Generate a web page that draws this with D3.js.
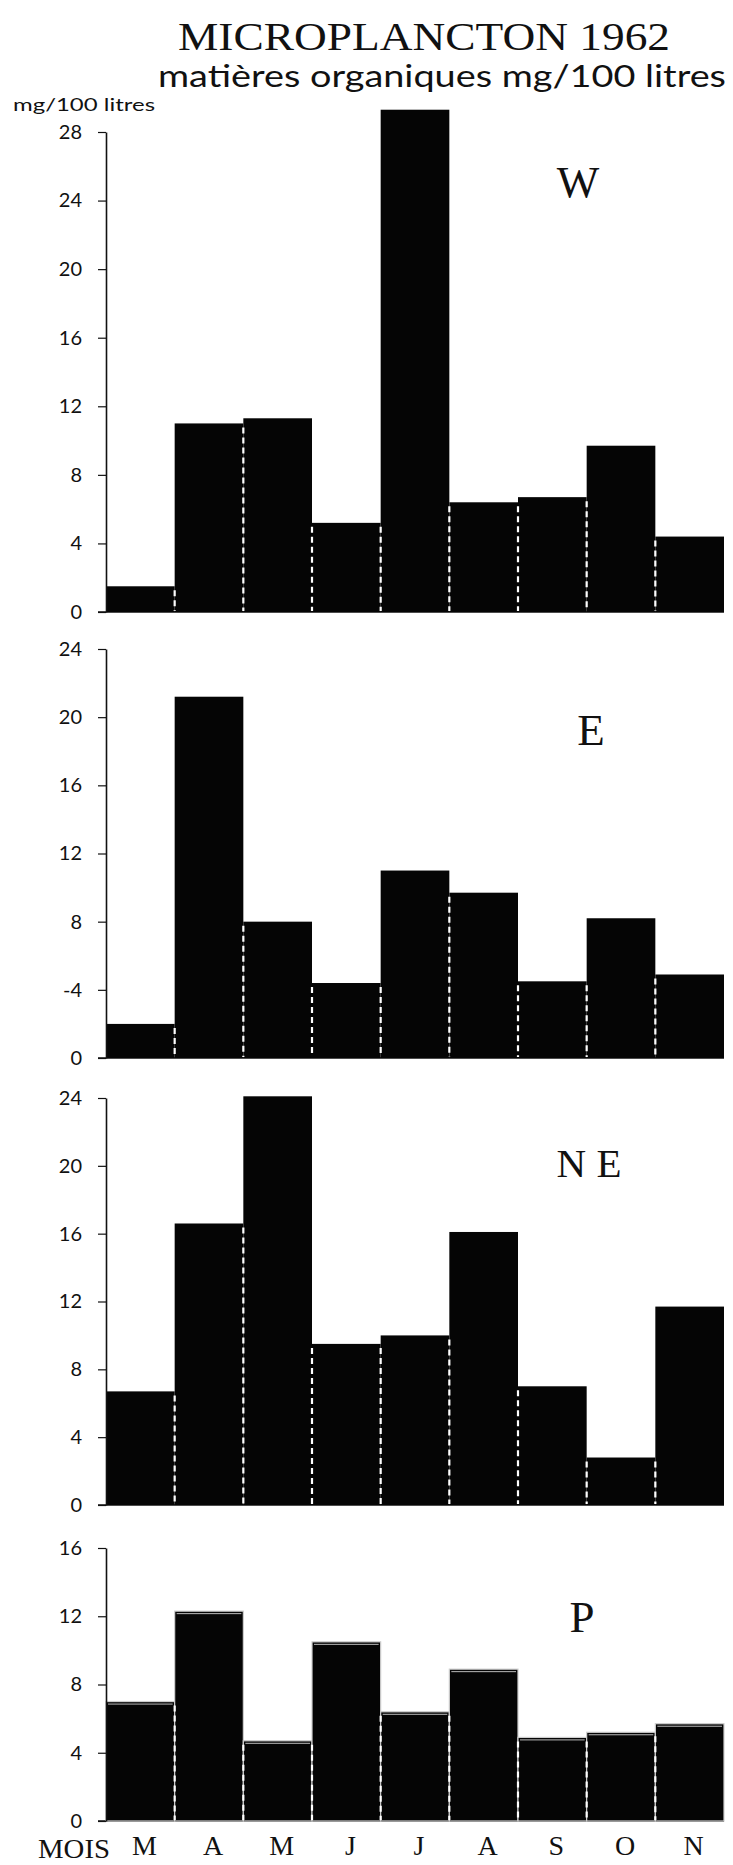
<!DOCTYPE html>
<html><head><meta charset="utf-8">
<script src="https://cdn.jsdelivr.net/npm/d3@7"></script>
<style>html,body{margin:0;padding:0;background:#fff}svg{display:block}</style>
</head><body><svg id="c"></svg>
<script>
// ---- data ----
const months = ["M","A","M","J","J","A","S","O","N"];
const valuesW  = [1.5, 11.0, 11.3, 5.2, 29.3, 6.4, 6.7, 9.7, 4.4];
const valuesE  = [2.0, 21.2, 8.0, 4.4, 11.0, 9.7, 4.5, 8.2, 4.9];
const valuesNE = [6.7, 16.6, 24.1, 9.5, 10.0, 16.1, 7.0, 2.8, 11.7];
const valuesP  = [7.0, 12.3, 4.7, 10.5, 6.4, 8.9, 4.9, 5.2, 5.7];
const ticksW  = [0,4,8,12,16,20,24,28];
const tickLabelsW  = ["0","4","8","12","16","20","24","28"];
const ticksE  = [0,4,8,12,16,20,24];
const tickLabelsE  = ["0","-4","8","12","16","20","24"];
const ticksNE = [0,4,8,12,16,20,24];
const tickLabelsNE = ["0","4","8","12","16","20","24"];
const ticksP  = [0,4,8,12,16];
const tickLabelsP  = ["0","4","8","12","16"];
const panelNames = ["W","E","N E","P"];
const titleText = "MICROPLANCTON 1962";
const subtitleText = "matières organiques mg/100 litres";
const unitText = "mg/100 litres";
const axisName = "MOIS";

// ---- layout ----
const Wd = 733, Ht = 1865;
const svg = d3.select("#c").attr("width", Wd).attr("height", Ht);
svg.append("rect").attr("width", Wd).attr("height", Ht).attr("fill", "#fff");

const panels = [
  {name: panelNames[0], values: valuesW,  ticks: ticksW,  labels: tickLabelsW,  max: 28, bottom: 612,  top: 132,  lx: 578, ly: 197,  fs: 45, outline: false},
  {name: panelNames[1], values: valuesE,  ticks: ticksE,  labels: tickLabelsE,  max: 24, bottom: 1058, top: 649,  lx: 591, ly: 745,  fs: 45, outline: false},
  {name: panelNames[2], values: valuesNE, ticks: ticksNE, labels: tickLabelsNE, max: 24, bottom: 1505, top: 1098, lx: 589, ly: 1177, fs: 41, outline: false},
  {name: panelNames[3], values: valuesP,  ticks: ticksP,  labels: tickLabelsP,  max: 16, bottom: 1821, top: 1548, lx: 582, ly: 1632, fs: 45, outline: true}
];

const x = d3.scaleBand().domain(d3.range(months.length)).range([106, 724]).paddingInner(0).paddingOuter(0);
const serif = "'Liberation Serif', 'DejaVu Serif', serif";
const sans = "Lato, 'Noto Sans', sans-serif";

// titles
svg.append("text").attr("x", 178).attr("y", 50).attr("font-family", serif).attr("font-size", 41)
  .attr("textLength", 492).attr("lengthAdjust", "spacingAndGlyphs").attr("fill", "#111").text(titleText);
svg.append("text").attr("x", 158).attr("y", 87).attr("font-family", sans).attr("font-size", 30)
  .attr("textLength", 568).attr("lengthAdjust", "spacingAndGlyphs").attr("fill", "#111").text(subtitleText);
svg.append("text").attr("x", 13).attr("y", 111).attr("font-family", sans).attr("font-size", 18)
  .attr("textLength", 142).attr("lengthAdjust", "spacingAndGlyphs").attr("fill", "#111").text(unitText);

panels.forEach(p => {
  const y = d3.scaleLinear().domain([0, p.max]).range([p.bottom, p.top]);
  const g = svg.append("g");

  // baseline
  g.append("line").attr("x1", 98).attr("x2", x.range()[1]).attr("y1", y(0)).attr("y2", y(0))
    .attr("stroke", "#111").attr("stroke-width", 1.3);

  // bars
  g.selectAll("rect.bar").data(p.values).join("rect").attr("class", "bar")
    .attr("x", (d, i) => x(i)).attr("y", d => y(d))
    .attr("width", x.bandwidth()).attr("height", d => y(0) - y(d))
    .attr("fill", "#050505")
    .attr("stroke", p.outline ? "#cfcfcf" : "none").attr("stroke-width", p.outline ? 1.2 : 0);

  if (p.outline) {
    g.selectAll("line.inner").data(p.values).join("line").attr("class", "inner")
      .attr("x1", (d, i) => x(i) + 2).attr("x2", (d, i) => x(i) + x.bandwidth() - 2)
      .attr("y1", d => y(d) + 2.5).attr("y2", d => y(d) + 2.5)
      .attr("stroke", "#bbb").attr("stroke-width", 1);
  }

  // dashed white separators between adjacent bars
  const seps = d3.range(1, p.values.length).map(i => ({i, v: Math.min(p.values[i - 1], p.values[i])}));
  g.selectAll("line.sep").data(seps).join("line").attr("class", "sep")
    .attr("x1", d => x(d.i)).attr("x2", d => x(d.i))
    .attr("y1", d => y(d.v) + 4).attr("y2", y(0) - 1)
    .attr("stroke", "#fff").attr("stroke-width", 2.2).attr("stroke-dasharray", "6,4");

  // y axis
  const ax = d3.axisLeft(y).tickValues(p.ticks).tickFormat((d, i) => p.labels[i])
    .tickSize(8).tickSizeOuter(0).tickPadding(16);
  const ag = g.append("g").attr("transform", "translate(106,0)").call(ax);
  ag.select(".domain").attr("stroke", "#111").attr("stroke-width", 1.6);
  ag.selectAll(".tick line").attr("stroke", "#111").attr("stroke-width", 1.2);
  ag.selectAll(".tick text").attr("font-family", sans).attr("font-size", 20).attr("fill", "#111");

  // panel name
  g.append("text").attr("x", p.lx).attr("y", p.ly).attr("text-anchor", "middle")
    .attr("font-family", serif).attr("font-size", p.fs).attr("fill", "#111")
    .style("white-space", "pre").text(p.name);
});

// month axis under last panel
const last = panels[panels.length - 1];
const xb = d3.axisBottom(x).tickFormat(i => months[i]).tickSize(0).tickPadding(14);
const xg = svg.append("g").attr("transform", `translate(4,${last.bottom})`).call(xb);
xg.select(".domain").remove();
xg.selectAll(".tick text").attr("font-family", serif).attr("font-size", 28).attr("fill", "#111");
svg.append("text").attr("x", 38).attr("y", 1858).attr("font-family", serif).attr("font-size", 27)
  .attr("textLength", 72).attr("lengthAdjust", "spacingAndGlyphs").attr("fill", "#111").text(axisName);
</script>
</body></html>
